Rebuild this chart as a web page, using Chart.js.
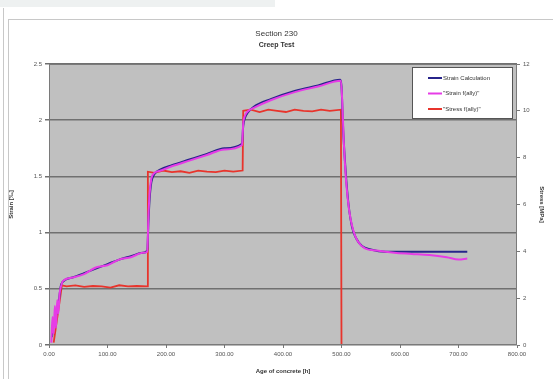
<!DOCTYPE html>
<html>
<head>
<meta charset="utf-8">
<script src="https://cdn.jsdelivr.net/npm/chart.js@4/dist/chart.umd.min.js"></script>
<style>
  body { margin:0; width:553px; height:379px; background:#fff; overflow:hidden; position:relative; }
  #topstrip { position:absolute; left:0; top:0; width:275px; height:7px; background:#eef1f1; }
  #sideline { position:absolute; left:3px; top:8px; width:1px; height:371px; background:#c8c8c8; }
  #frame { position:absolute; left:8px; top:19px; width:545px; height:360px; border-top:1px solid #c8c8c8; border-left:1px solid #c8c8c8; }
  #wrap { position:absolute; left:0; top:0; width:553px; height:379px; }
</style>
</head>
<body>
<div id="topstrip"></div>
<div id="sideline"></div>
<div id="frame"></div>
<div id="wrap"><canvas id="chartCanvas" width="553" height="379"></canvas></div>
<script>
// data (x = age of concrete, h)
const calcTime   = [5, 8, 11, 14, 17, 20, 23, 40, 60, 80, 100, 120, 140, 160, 168, 170, 172, 175, 180, 190, 210, 240, 270, 300, 330, 332, 335, 340, 350, 380, 420, 460, 498, 500, 503, 507, 512, 518, 525, 535, 550, 575, 600, 650, 715]
const calcStrain = [0.07, 0.2, 0.25, 0.3, 0.4, 0.52, 0.56, 0.6, 0.64, 0.68, 0.72, 0.76, 0.79, 0.82, 0.84, 1.1, 1.3, 1.45, 1.52, 1.56, 1.6, 1.65, 1.7, 1.75, 1.79, 1.95, 2.02, 2.07, 2.12, 2.19, 2.26, 2.31, 2.36, 2.3, 1.9, 1.55, 1.25, 1.05, 0.95, 0.88, 0.85, 0.83, 0.83, 0.83, 0.83]

const measTime   = [4, 6, 8, 10, 12, 14, 16, 18, 21, 24, 40, 60, 80, 100, 120, 140, 160, 168, 170, 172, 175, 180, 190, 210, 240, 270, 300, 330, 332, 335, 340, 350, 380, 420, 460, 499, 501, 504, 508, 513, 520, 528, 540, 560, 590, 620, 650, 680, 700, 715]
const measStrain = [0.02, 0.25, 0.1, 0.35, 0.15, 0.4, 0.28, 0.45, 0.53, 0.57, 0.6, 0.63, 0.69, 0.71, 0.76, 0.78, 0.82, 0.83, 1.15, 1.35, 1.48, 1.53, 1.55, 1.59, 1.64, 1.69, 1.74, 1.78, 1.97, 2.04, 2.08, 2.11, 2.18, 2.25, 2.3, 2.35, 2.2, 1.8, 1.45, 1.2, 1.02, 0.92, 0.86, 0.84, 0.82, 0.81, 0.80, 0.78, 0.76, 0.77]

const stressTime = [8, 12, 16, 19, 22, 30, 45, 60, 75, 90, 105, 120, 135, 150, 168, 169, 180, 195, 210, 225, 240, 255, 270, 285, 300, 315, 331, 332, 345, 360, 375, 390, 405, 420, 435, 450, 465, 480, 499, 500, 502]
const stressMPa  = [0.1, 0.8, 1.5, 2.0, 2.55, 2.5, 2.55, 2.48, 2.52, 2.5, 2.45, 2.55, 2.5, 2.52, 2.5, 7.4, 7.35, 7.45, 7.38, 7.42, 7.35, 7.45, 7.4, 7.38, 7.45, 7.4, 7.45, 10.0, 10.05, 9.95, 10.05, 10.0, 9.95, 10.05, 10.0, 9.98, 10.05, 10.0, 10.05, 0, 0]

const seriesNames = ["Strain Calculation", "\"Strain f(ally)\"", "\"Stress f(ally)\""]
const seriesColors = ["#27248a", "#e63ce6", "#e8342c"]

const xTicks = [0, 100, 200, 300, 400, 500, 600, 700, 800]

function pairs(xs, ys){ return xs.map((x, i) => ({x: x, y: ys[i]})) }

const FONT = "'Liberation Sans', Arial, sans-serif"
Chart.defaults.font.family = FONT
Chart.defaults.color = "#444"

// grey plot area + frame, and legend box drawn inside it
const plotBg = {
  id: "plotBg",
  beforeDraw(chart){
    const a = chart.chartArea, c = chart.ctx
    c.save()
    c.fillStyle = "#c0c0c0"
    c.fillRect(a.left, a.top, a.right - a.left, a.bottom - a.top)
    c.restore()
  },
  afterDraw(chart){
    const a = chart.chartArea, c = chart.ctx
    c.save()
    c.strokeStyle = "#7a7a7a"
    c.lineWidth = 1
    c.strokeRect(a.left + 0.5, a.top + 0.5, a.right - a.left - 1, a.bottom - a.top - 1)
    // legend
    const bx = 412, by = 67, bw = 100, bh = 51
    c.fillStyle = "#fff"
    c.fillRect(bx, by, bw, bh)
    c.strokeStyle = "#555"
    c.strokeRect(bx + 0.5, by + 0.5, bw, bh)
    c.font = "6px " + FONT
    c.textBaseline = "middle"
    chart.data.datasets.forEach((ds, i) => {
      const y = by + 11 + i * 15.5
      c.strokeStyle = ds.borderColor
      c.lineWidth = 2
      c.beginPath(); c.moveTo(bx + 16, y); c.lineTo(bx + 30, y); c.stroke()
      c.fillStyle = "#333"
      c.fillText(ds.label, bx + 31, y)
    })
    c.restore()
  }
}

const ctx = document.getElementById("chartCanvas")
const myChart = new Chart(ctx, {
  type: "line",
  data: {
    datasets: [
      {label: seriesNames[0], data: pairs(calcTime, calcStrain), borderColor: seriesColors[0], yAxisID: "y", order: 2, cubicInterpolationMode: "monotone"},
      {label: seriesNames[1], data: pairs(measTime, measStrain), borderColor: seriesColors[1], yAxisID: "y", order: 1, cubicInterpolationMode: "monotone"},
      {label: seriesNames[2], data: pairs(stressTime, stressMPa), borderColor: seriesColors[2], yAxisID: "y2", order: 3, tension: 0, borderWidth: 1.8}
    ]
  },
  plugins: [plotBg],
  options: {
    responsive: false,
    maintainAspectRatio: false,
    animation: false,
    devicePixelRatio: 1,
    layout: {padding: {left: 8, right: 8, top: 6, bottom: 4}},
    elements: {point: {radius: 0}, line: {borderWidth: 2, tension: 0.3}},
    plugins: {
      legend: {display: false},
      tooltip: {enabled: false},
      title: {display: true, text: "Section 230", color: "#333", font: {size: 8, weight: "normal"}, padding: {top: 23, bottom: 1}},
      subtitle: {display: true, text: "Creep Test", color: "#333", font: {size: 7, weight: "bold"}, padding: {top: 1, bottom: 15}}
    },
    scales: {
      x: {
        type: "linear", min: 0, max: 800,
        afterBuildTicks: s => { s.ticks = xTicks.map(v => ({value: v})) },
        afterFit: s => { s.height = 30 },
        grid: {drawOnChartArea: false, tickLength: 3, color: "#777"},
        border: {display: false},
        ticks: {font: {size: 6}, color: "#555", padding: 3, maxRotation: 0, callback: v => v.toFixed(2)},
        title: {display: true, text: "Age of concrete [h]", font: {size: 6, weight: "bold"}, color: "#333", padding: {top: 1, bottom: 0}}
      },
      y: {
        position: "left", min: 0, max: 2.5,
        afterFit: s => { s.width = 41 },
        grid: {color: "#707070", lineWidth: 1.5, tickLength: 4},
        border: {display: false},
        ticks: {stepSize: 0.5, font: {size: 6}, color: "#555", padding: 3, callback: v => String(v)},
        title: {display: true, text: "Strain [‰]", font: {size: 6, weight: "bold"}, color: "#333", padding: 0}
      },
      y2: {
        position: "right", min: 0, max: 12,
        afterFit: s => { s.width = 28 },
        grid: {drawOnChartArea: false, tickLength: 3, color: "#777"},
        border: {display: false},
        ticks: {stepSize: 2, font: {size: 6}, color: "#555", padding: 3},
        title: {display: true, text: "Stress [MPa]", font: {size: 6, weight: "bold"}, color: "#333", padding: 0}
      }
    }
  }
})
console.log(JSON.stringify(myChart.chartArea))
</script>
</body>
</html>
